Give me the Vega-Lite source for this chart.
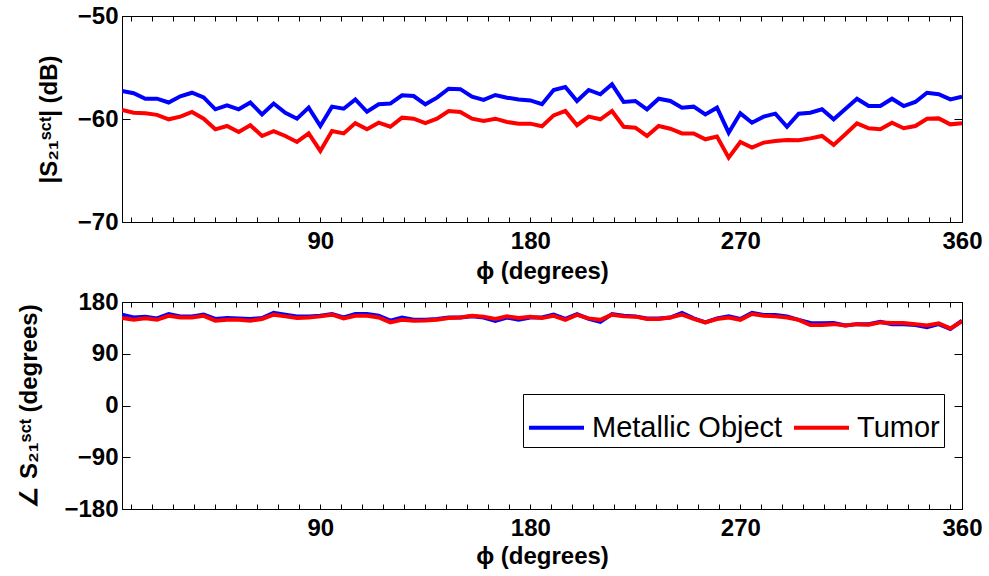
{
"$schema": "https://vega.github.io/schema/vega-lite/v6.json",
"background": "white",
"padding": {"left": 17, "top": 3, "right": 5, "bottom": 5},
"bounds": "flush",
"spacing": 80,
"datasets": {"s": [
{"phi":0,"series":"Metallic Object","mag":-57.28,"phase":158},
{"phi":5,"series":"Metallic Object","mag":-57.5,"phase":153},
{"phi":10,"series":"Metallic Object","mag":-58.03,"phase":154.5},
{"phi":15,"series":"Metallic Object","mag":-58.03,"phase":151.5},
{"phi":20,"series":"Metallic Object","mag":-58.4,"phase":159},
{"phi":25,"series":"Metallic Object","mag":-57.8,"phase":155},
{"phi":30,"series":"Metallic Object","mag":-57.45,"phase":155},
{"phi":35,"series":"Metallic Object","mag":-57.9,"phase":158},
{"phi":40,"series":"Metallic Object","mag":-59.06,"phase":150.5},
{"phi":45,"series":"Metallic Object","mag":-58.67,"phase":152},
{"phi":50,"series":"Metallic Object","mag":-59.06,"phase":151.5},
{"phi":55,"series":"Metallic Object","mag":-58.4,"phase":150.5},
{"phi":60,"series":"Metallic Object","mag":-59.55,"phase":152},
{"phi":65,"series":"Metallic Object","mag":-58.5,"phase":161},
{"phi":70,"series":"Metallic Object","mag":-59.4,"phase":158},
{"phi":75,"series":"Metallic Object","mag":-59.97,"phase":155},
{"phi":80,"series":"Metallic Object","mag":-58.9,"phase":155},
{"phi":85,"series":"Metallic Object","mag":-60.68,"phase":156},
{"phi":90,"series":"Metallic Object","mag":-58.8,"phase":159},
{"phi":95,"series":"Metallic Object","mag":-59.0,"phase":153},
{"phi":100,"series":"Metallic Object","mag":-58.1,"phase":159},
{"phi":105,"series":"Metallic Object","mag":-59.3,"phase":159},
{"phi":110,"series":"Metallic Object","mag":-58.57,"phase":156},
{"phi":115,"series":"Metallic Object","mag":-58.5,"phase":147.5},
{"phi":120,"series":"Metallic Object","mag":-57.7,"phase":153},
{"phi":125,"series":"Metallic Object","mag":-57.77,"phase":149},
{"phi":130,"series":"Metallic Object","mag":-58.57,"phase":149},
{"phi":135,"series":"Metallic Object","mag":-57.93,"phase":150.5},
{"phi":140,"series":"Metallic Object","mag":-57.06,"phase":153},
{"phi":145,"series":"Metallic Object","mag":-57.1,"phase":153},
{"phi":150,"series":"Metallic Object","mag":-57.83,"phase":155},
{"phi":155,"series":"Metallic Object","mag":-58.15,"phase":153},
{"phi":160,"series":"Metallic Object","mag":-57.67,"phase":147},
{"phi":165,"series":"Metallic Object","mag":-57.93,"phase":153},
{"phi":170,"series":"Metallic Object","mag":-58.1,"phase":149},
{"phi":175,"series":"Metallic Object","mag":-58.2,"phase":153},
{"phi":180,"series":"Metallic Object","mag":-58.57,"phase":153},
{"phi":185,"series":"Metallic Object","mag":-57.18,"phase":158},
{"phi":190,"series":"Metallic Object","mag":-56.9,"phase":150.5},
{"phi":195,"series":"Metallic Object","mag":-58.25,"phase":159},
{"phi":200,"series":"Metallic Object","mag":-57.18,"phase":150.5},
{"phi":205,"series":"Metallic Object","mag":-57.6,"phase":145.5},
{"phi":210,"series":"Metallic Object","mag":-56.63,"phase":159},
{"phi":215,"series":"Metallic Object","mag":-58.35,"phase":156},
{"phi":220,"series":"Metallic Object","mag":-58.25,"phase":155},
{"phi":225,"series":"Metallic Object","mag":-59.06,"phase":151.5},
{"phi":230,"series":"Metallic Object","mag":-58.03,"phase":151.5},
{"phi":235,"series":"Metallic Object","mag":-58.25,"phase":153},
{"phi":240,"series":"Metallic Object","mag":-58.9,"phase":161},
{"phi":245,"series":"Metallic Object","mag":-58.8,"phase":151.5},
{"phi":250,"series":"Metallic Object","mag":-59.55,"phase":144.5},
{"phi":255,"series":"Metallic Object","mag":-58.9,"phase":151.5},
{"phi":260,"series":"Metallic Object","mag":-61.33,"phase":155},
{"phi":265,"series":"Metallic Object","mag":-59.45,"phase":150.5},
{"phi":270,"series":"Metallic Object","mag":-60.36,"phase":161},
{"phi":275,"series":"Metallic Object","mag":-59.77,"phase":157.5},
{"phi":280,"series":"Metallic Object","mag":-59.48,"phase":157.5},
{"phi":285,"series":"Metallic Object","mag":-60.75,"phase":155},
{"phi":290,"series":"Metallic Object","mag":-59.48,"phase":149},
{"phi":295,"series":"Metallic Object","mag":-59.39,"phase":143.5},
{"phi":300,"series":"Metallic Object","mag":-59.06,"phase":143},
{"phi":305,"series":"Metallic Object","mag":-60.03,"phase":143.5},
{"phi":310,"series":"Metallic Object","mag":-59.03,"phase":139},
{"phi":315,"series":"Metallic Object","mag":-58.03,"phase":141.5},
{"phi":320,"series":"Metallic Object","mag":-58.74,"phase":141.5},
{"phi":325,"series":"Metallic Object","mag":-58.74,"phase":145.5},
{"phi":330,"series":"Metallic Object","mag":-58.03,"phase":141.5},
{"phi":335,"series":"Metallic Object","mag":-58.74,"phase":141.5},
{"phi":340,"series":"Metallic Object","mag":-58.35,"phase":140},
{"phi":345,"series":"Metallic Object","mag":-57.45,"phase":136},
{"phi":350,"series":"Metallic Object","mag":-57.6,"phase":141.5},
{"phi":355,"series":"Metallic Object","mag":-58.1,"phase":133},
{"phi":360,"series":"Metallic Object","mag":-57.83,"phase":147.5},
{"phi":0,"series":"Tumor","mag":-59.13,"phase":152},
{"phi":5,"series":"Tumor","mag":-59.39,"phase":149},
{"phi":10,"series":"Tumor","mag":-59.45,"phase":151.5},
{"phi":15,"series":"Tumor","mag":-59.6,"phase":149},
{"phi":20,"series":"Tumor","mag":-60.03,"phase":156},
{"phi":25,"series":"Tumor","mag":-59.77,"phase":153},
{"phi":30,"series":"Tumor","mag":-59.32,"phase":153},
{"phi":35,"series":"Tumor","mag":-59.97,"phase":156},
{"phi":40,"series":"Tumor","mag":-61.0,"phase":147.5},
{"phi":45,"series":"Tumor","mag":-60.68,"phase":149},
{"phi":50,"series":"Tumor","mag":-61.26,"phase":149},
{"phi":55,"series":"Tumor","mag":-60.6,"phase":147.5},
{"phi":60,"series":"Tumor","mag":-61.65,"phase":150.5},
{"phi":65,"series":"Tumor","mag":-61.17,"phase":158},
{"phi":70,"series":"Tumor","mag":-61.65,"phase":155},
{"phi":75,"series":"Tumor","mag":-62.23,"phase":152},
{"phi":80,"series":"Tumor","mag":-61.4,"phase":153},
{"phi":85,"series":"Tumor","mag":-63.1,"phase":155},
{"phi":90,"series":"Tumor","mag":-61.17,"phase":158},
{"phi":95,"series":"Tumor","mag":-61.4,"phase":151.5},
{"phi":100,"series":"Tumor","mag":-60.4,"phase":156},
{"phi":105,"series":"Tumor","mag":-61.0,"phase":156},
{"phi":110,"series":"Tumor","mag":-60.36,"phase":153},
{"phi":115,"series":"Tumor","mag":-60.75,"phase":144.5},
{"phi":120,"series":"Tumor","mag":-59.87,"phase":149},
{"phi":125,"series":"Tumor","mag":-59.97,"phase":147.5},
{"phi":130,"series":"Tumor","mag":-60.4,"phase":148},
{"phi":135,"series":"Tumor","mag":-59.97,"phase":149},
{"phi":140,"series":"Tumor","mag":-59.22,"phase":152},
{"phi":145,"series":"Tumor","mag":-59.32,"phase":153},
{"phi":150,"series":"Tumor","mag":-59.97,"phase":156},
{"phi":155,"series":"Tumor","mag":-60.2,"phase":154.5},
{"phi":160,"series":"Tumor","mag":-59.97,"phase":150.5},
{"phi":165,"series":"Tumor","mag":-60.29,"phase":155},
{"phi":170,"series":"Tumor","mag":-60.45,"phase":152},
{"phi":175,"series":"Tumor","mag":-60.45,"phase":154.5},
{"phi":180,"series":"Tumor","mag":-60.7,"phase":152},
{"phi":185,"series":"Tumor","mag":-59.65,"phase":156},
{"phi":190,"series":"Tumor","mag":-59.22,"phase":149},
{"phi":195,"series":"Tumor","mag":-60.6,"phase":157.5},
{"phi":200,"series":"Tumor","mag":-59.77,"phase":151.5},
{"phi":205,"series":"Tumor","mag":-60.03,"phase":149},
{"phi":210,"series":"Tumor","mag":-59.22,"phase":158},
{"phi":215,"series":"Tumor","mag":-60.75,"phase":155},
{"phi":220,"series":"Tumor","mag":-60.84,"phase":154.5},
{"phi":225,"series":"Tumor","mag":-61.65,"phase":150.5},
{"phi":230,"series":"Tumor","mag":-60.68,"phase":150.5},
{"phi":235,"series":"Tumor","mag":-60.94,"phase":153},
{"phi":240,"series":"Tumor","mag":-61.4,"phase":158},
{"phi":245,"series":"Tumor","mag":-61.4,"phase":150.5},
{"phi":250,"series":"Tumor","mag":-61.97,"phase":144.5},
{"phi":255,"series":"Tumor","mag":-61.7,"phase":150.5},
{"phi":260,"series":"Tumor","mag":-63.75,"phase":153},
{"phi":265,"series":"Tumor","mag":-62.23,"phase":149},
{"phi":270,"series":"Tumor","mag":-62.78,"phase":159},
{"phi":275,"series":"Tumor","mag":-62.29,"phase":156},
{"phi":280,"series":"Tumor","mag":-62.14,"phase":155},
{"phi":285,"series":"Tumor","mag":-62.04,"phase":153},
{"phi":290,"series":"Tumor","mag":-62.07,"phase":149},
{"phi":295,"series":"Tumor","mag":-61.88,"phase":140},
{"phi":300,"series":"Tumor","mag":-61.65,"phase":140},
{"phi":305,"series":"Tumor","mag":-62.52,"phase":141.5},
{"phi":310,"series":"Tumor","mag":-61.49,"phase":139},
{"phi":315,"series":"Tumor","mag":-60.42,"phase":141.5},
{"phi":320,"series":"Tumor","mag":-60.9,"phase":140.5},
{"phi":325,"series":"Tumor","mag":-61.0,"phase":144.5},
{"phi":330,"series":"Tumor","mag":-60.36,"phase":143.5},
{"phi":335,"series":"Tumor","mag":-60.9,"phase":143.5},
{"phi":340,"series":"Tumor","mag":-60.68,"phase":141.5},
{"phi":345,"series":"Tumor","mag":-59.97,"phase":139},
{"phi":350,"series":"Tumor","mag":-59.94,"phase":143},
{"phi":355,"series":"Tumor","mag":-60.52,"phase":134},
{"phi":360,"series":"Tumor","mag":-60.42,"phase":146.5}
]},
"data": {"name": "s"},
"config": {
  "font": "Liberation Sans",
  "view": {"stroke": "black", "strokeWidth": 1},
  "axis": {"labelFont": "Liberation Sans", "labelFontSize": 24, "labelFontWeight": "bold", "labelColor": "black",
           "titleFont": "Liberation Sans", "titleFontSize": 24, "titleFontWeight": "bold", "titleColor": "black",
           "domainColor": "black", "tickColor": "black", "grid": false, "labelPadding": 12,
           "labelFlush": false, "labelOverlap": false, "labelBound": false}
},
"resolve": {"legend": {"color": "independent"}},
"vconcat": [
{
  "width": 840, "height": 206,
  "layer": [
    {"mark": {"type": "line", "strokeWidth": 4, "clip": true},
     "encoding": {
       "x": {"field": "phi", "type": "quantitative", "scale": {"domain": [0, 360], "nice": false, "zero": false},
             "axis": {"orient": "bottom", "title": "ϕ (degrees)", "titlePadding": 6, "tickSize": -5,
                      "values": [4,13,22,31,40,49,58,67,76,85,94,103,112,121,130,139,148,157,166,175,184,193,202,211,220,229,238,247,256,265,274,283,292,301,310,319,328,337,346,355,360],
                      "labelExpr": "datum.value == 85 ? '90' : datum.value == 175 ? '180' : datum.value == 265 ? '270' : datum.value == 360 ? '360' : ''"}},
       "y": {"field": "mag", "type": "quantitative", "scale": {"domain": [-70, -50], "nice": false, "zero": false},
             "axis": {"orient": "left", "title": "|S₂₁ˢᶜᵗ| (dB)", "titlePadding": 16, "tickSize": -8, "values": [-70, -60, -50]}},
       "color": {"field": "series", "type": "nominal", "scale": {"domain": ["Metallic Object", "Tumor"], "range": ["#0000ff", "#ff0000"]}, "legend": null}
     }},
    {"mark": {"type": "line", "strokeOpacity": 0},
     "encoding": {
       "x": {"field": "phi", "type": "quantitative", "scale": {"domain": [0, 360], "nice": false, "zero": false},
             "axis": {"orient": "top", "title": null, "labels": false, "tickSize": -5,
                      "values": [4,13,22,31,40,49,58,67,76,85,94,103,112,121,130,139,148,157,166,175,184,193,202,211,220,229,238,247,256,265,274,283,292,301,310,319,328,337,346,355,360]}},
       "y": {"field": "mag", "type": "quantitative", "scale": {"domain": [-70, -50], "nice": false, "zero": false},
             "axis": {"orient": "right", "title": null, "labels": false, "tickSize": -8, "values": [-70, -60, -50]}},
       "detail": {"field": "series"}
     }}
  ],
  "resolve": {"axis": {"x": "independent", "y": "independent"}}
},
{
  "width": 840, "height": 207,
  "layer": [
    {"mark": {"type": "line", "strokeWidth": 4, "clip": true},
     "encoding": {
       "x": {"field": "phi", "type": "quantitative", "scale": {"domain": [0, 360], "nice": false, "zero": false},
             "axis": {"orient": "bottom", "title": "ϕ (degrees)", "titlePadding": 4, "tickSize": -5,
                      "values": [4,13,22,31,40,49,58,67,76,85,94,103,112,121,130,139,148,157,166,175,184,193,202,211,220,229,238,247,256,265,274,283,292,301,310,319,328,337,346,355,360],
                      "labelExpr": "datum.value == 85 ? '90' : datum.value == 175 ? '180' : datum.value == 265 ? '270' : datum.value == 360 ? '360' : ''"}},
       "y": {"field": "phase", "type": "quantitative", "scale": {"domain": [-180, 180], "nice": false, "zero": false},
             "axis": {"orient": "left", "title": "∠ S₂₁ˢᶜᵗ (degrees)", "titlePadding": 22, "tickSize": -8, "values": [-180, -90, 0, 90, 180]}},
       "color": {"field": "series", "type": "nominal", "scale": {"domain": ["Metallic Object", "Tumor"], "range": ["#0000ff", "#ff0000"]},
                 "legend": {"orient": "none", "legendX": 401, "legendY": 92, "direction": "horizontal", "title": null,
                            "symbolType": "stroke", "symbolSize": 3025, "symbolStrokeWidth": 4,
                            "labelFont": "Liberation Sans", "labelFontSize": 29, "labelFontWeight": "normal", "labelColor": "black",
                            "labelLimit": 500, "labelOffset": 6, "columnPadding": 3, "padding": 4,
                            "strokeColor": "black", "fillColor": "white"}}
     }},
    {"mark": {"type": "line", "strokeOpacity": 0},
     "encoding": {
       "x": {"field": "phi", "type": "quantitative", "scale": {"domain": [0, 360], "nice": false, "zero": false},
             "axis": {"orient": "top", "title": null, "labels": false, "tickSize": -5,
                      "values": [4,13,22,31,40,49,58,67,76,85,94,103,112,121,130,139,148,157,166,175,184,193,202,211,220,229,238,247,256,265,274,283,292,301,310,319,328,337,346,355,360]}},
       "y": {"field": "phase", "type": "quantitative", "scale": {"domain": [-180, 180], "nice": false, "zero": false},
             "axis": {"orient": "right", "title": null, "labels": false, "tickSize": -8, "values": [-180, -90, 0, 90, 180]}},
       "detail": {"field": "series"}
     }}
  ],
  "resolve": {"axis": {"x": "independent", "y": "independent"}}
}
]
}
